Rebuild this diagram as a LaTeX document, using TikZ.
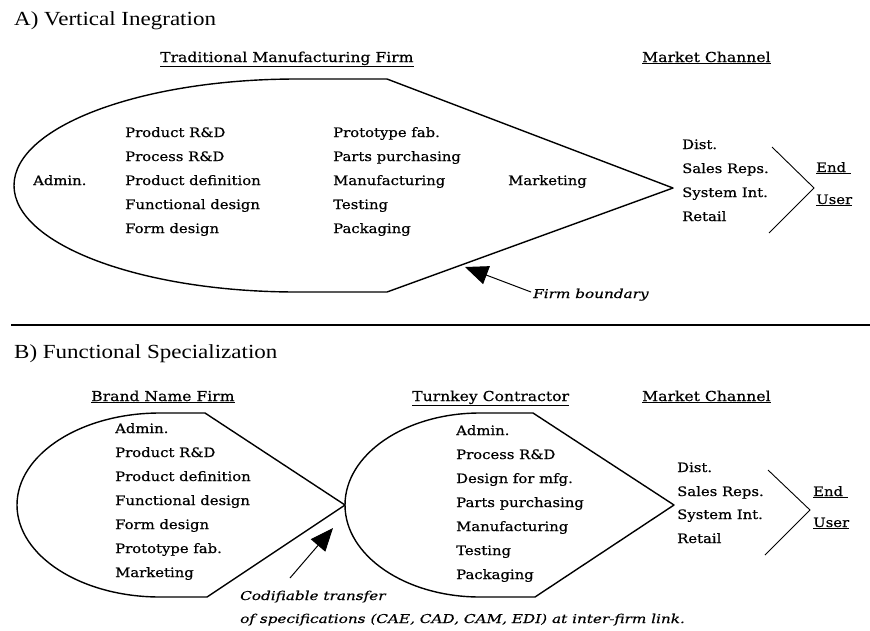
\documentclass[tikz,border=0pt]{standalone}
\usepackage{fontspec}
\setmainfont[FakeStretch=1.14]{DejaVu Serif}
\newfontfamily\bodyfont[FakeStretch=1.14,FakeBold=0.6]{DejaVu Serif}
\newfontfamily\titlefont[FakeStretch=1.15]{Liberation Serif}
\newfontfamily\notefont[FakeStretch=1.25,FakeBold=0.4]{DejaVu Serif Italic}
\usetikzlibrary{arrows.meta}
\begin{document}
\begin{tikzpicture}[x=1pt,y=-1pt,
  lbl/.style={anchor=base west,inner sep=0pt,font=\bodyfont\fontsize{13}{14}\selectfont},
  head/.style={anchor=base west,inner sep=0pt,font=\bodyfont\fontsize{13.7}{15}\selectfont},
  ttl/.style={anchor=base west,inner sep=0pt,font=\titlefont\fontsize{20}{22}\selectfont},
  note/.style={anchor=base west,inner sep=0pt,font=\notefont\fontsize{12.2}{13}\selectfont},
  firm/.style={line width=1.4pt,line join=round},
  chev/.style={line width=0.9pt},
  rule/.style={line width=1.8pt},
  ptr/.style={line width=1pt,-{Triangle[length=23pt,width=19pt]}}]
\useasboundingbox[fill=white] (0,0) rectangle (870,630);

% ---------- A) Vertical integration ----------
\node[ttl] (ta) at (14,25) {A) Vertical Inegration};
\node[head] (hfirm) at (160,62) {\underline{Traditional Manufacturing Firm}};
\node[head] (hmca) at (642,62) {\underline{Market Channel}};

\draw[firm] (387,79) -- (297,79) arc[start angle=90,end angle=270,x radius=283pt,y radius=106.5pt] -- (387,292) -- (673,188) -- cycle;

\node[lbl] (aadm) at (33,185) {Admin.};
\node[lbl] (a11) at (125,137) {Product R\&D};
\node[lbl] (a12) at (125,161) {Process R\&D};
\node[lbl] (a13) at (125,185) {Product definition};
\node[lbl] (a14) at (125,209) {Functional design};
\node[lbl] (a15) at (125,233) {Form design};
\node[lbl] (a21) at (333,137) {Prototype fab.};
\node[lbl] (a22) at (333,161) {Parts purchasing};
\node[lbl] (a23) at (333,185) {Manufacturing};
\node[lbl] (a24) at (333,209) {Testing};
\node[lbl] (a25) at (333,233) {Packaging};
\node[lbl] (amkt) at (508,185) {Marketing};

\node[lbl] (am1) at (682,149) {Dist.};
\node[lbl] (am2) at (682,173) {Sales Reps.};
\node[lbl] (am3) at (682,197) {System Int.};
\node[lbl] (am4) at (682,221) {Retail};
\coordinate (ac1) at (772,147);
\coordinate (ac2) at (814,188);
\coordinate (ac3) at (769,233);
\draw[chev] (ac1) -- (ac2) -- (ac3);
\node[lbl] (aend) at (816,172) {\underline{End\ }};
\node[lbl] (auser) at (816,204) {\underline{User}};

\coordinate (fbtail) at (531,292);
\coordinate (fbtip) at (465,267);
\draw[ptr] (fbtail) -- (fbtip);
\node[note] (fbnote) at (533,298) {Firm boundary};

\draw[rule] (11,325) -- (870,325);

% ---------- B) Functional specialization ----------
\node[ttl] (tb) at (14,358) {B) Functional Specialization};
\node[head] (hbrand) at (91,401) {\underline{Brand Name Firm}};
\node[head] (hturn) at (412,401) {\underline{Turnkey Contractor}};
\node[head] (hmcb) at (642,401) {\underline{Market Channel}};

\draw[firm] (205,413) -- (160,413) arc[start angle=90,end angle=270,x radius=143pt,y radius=92pt] -- (207,597) -- (345,505) -- cycle;
\draw[firm] (533,413) -- (480,413) arc[start angle=90,end angle=270,x radius=135pt,y radius=92pt] -- (535,597) -- (674,505) -- cycle;

\node[lbl] (b11) at (115,433) {Admin.};
\node[lbl] (b12) at (115,457) {Product R\&D};
\node[lbl] (b13) at (115,481) {Product definition};
\node[lbl] (b14) at (115,505) {Functional design};
\node[lbl] (b15) at (115,529) {Form design};
\node[lbl] (b16) at (115,553) {Prototype fab.};
\node[lbl] (b17) at (115,577) {Marketing};

\node[lbl] (b21) at (456,435) {Admin.};
\node[lbl] (b22) at (456,459) {Process R\&D};
\node[lbl] (b23) at (456,483) {Design for mfg.};
\node[lbl] (b24) at (456,507) {Parts purchasing};
\node[lbl] (b25) at (456,531) {Manufacturing};
\node[lbl] (b26) at (456,555) {Testing};
\node[lbl] (b27) at (456,579) {Packaging};

\node[lbl] (bm1) at (677,472) {Dist.};
\node[lbl] (bm2) at (677,496) {Sales Reps.};
\node[lbl] (bm3) at (677,519) {System Int.};
\node[lbl] (bm4) at (677,543) {Retail};
\coordinate (bc1) at (768,470);
\coordinate (bc2) at (810,510);
\coordinate (bc3) at (765,555);
\draw[chev] (bc1) -- (bc2) -- (bc3);
\node[lbl] (bend) at (813,496) {\underline{End\ }};
\node[lbl] (buser) at (813,527) {\underline{User}};

\coordinate (cttail) at (290,578);
\coordinate (cttip) at (333,528);
\draw[ptr] (cttail) -- (cttip);
\node[note] (ct1) at (240,600) {Codifiable transfer};
\node[note] (ct2) at (240,623) {of specifications (CAE, CAD, CAM, EDI) at inter-firm link.};
\end{tikzpicture}
\end{document}
